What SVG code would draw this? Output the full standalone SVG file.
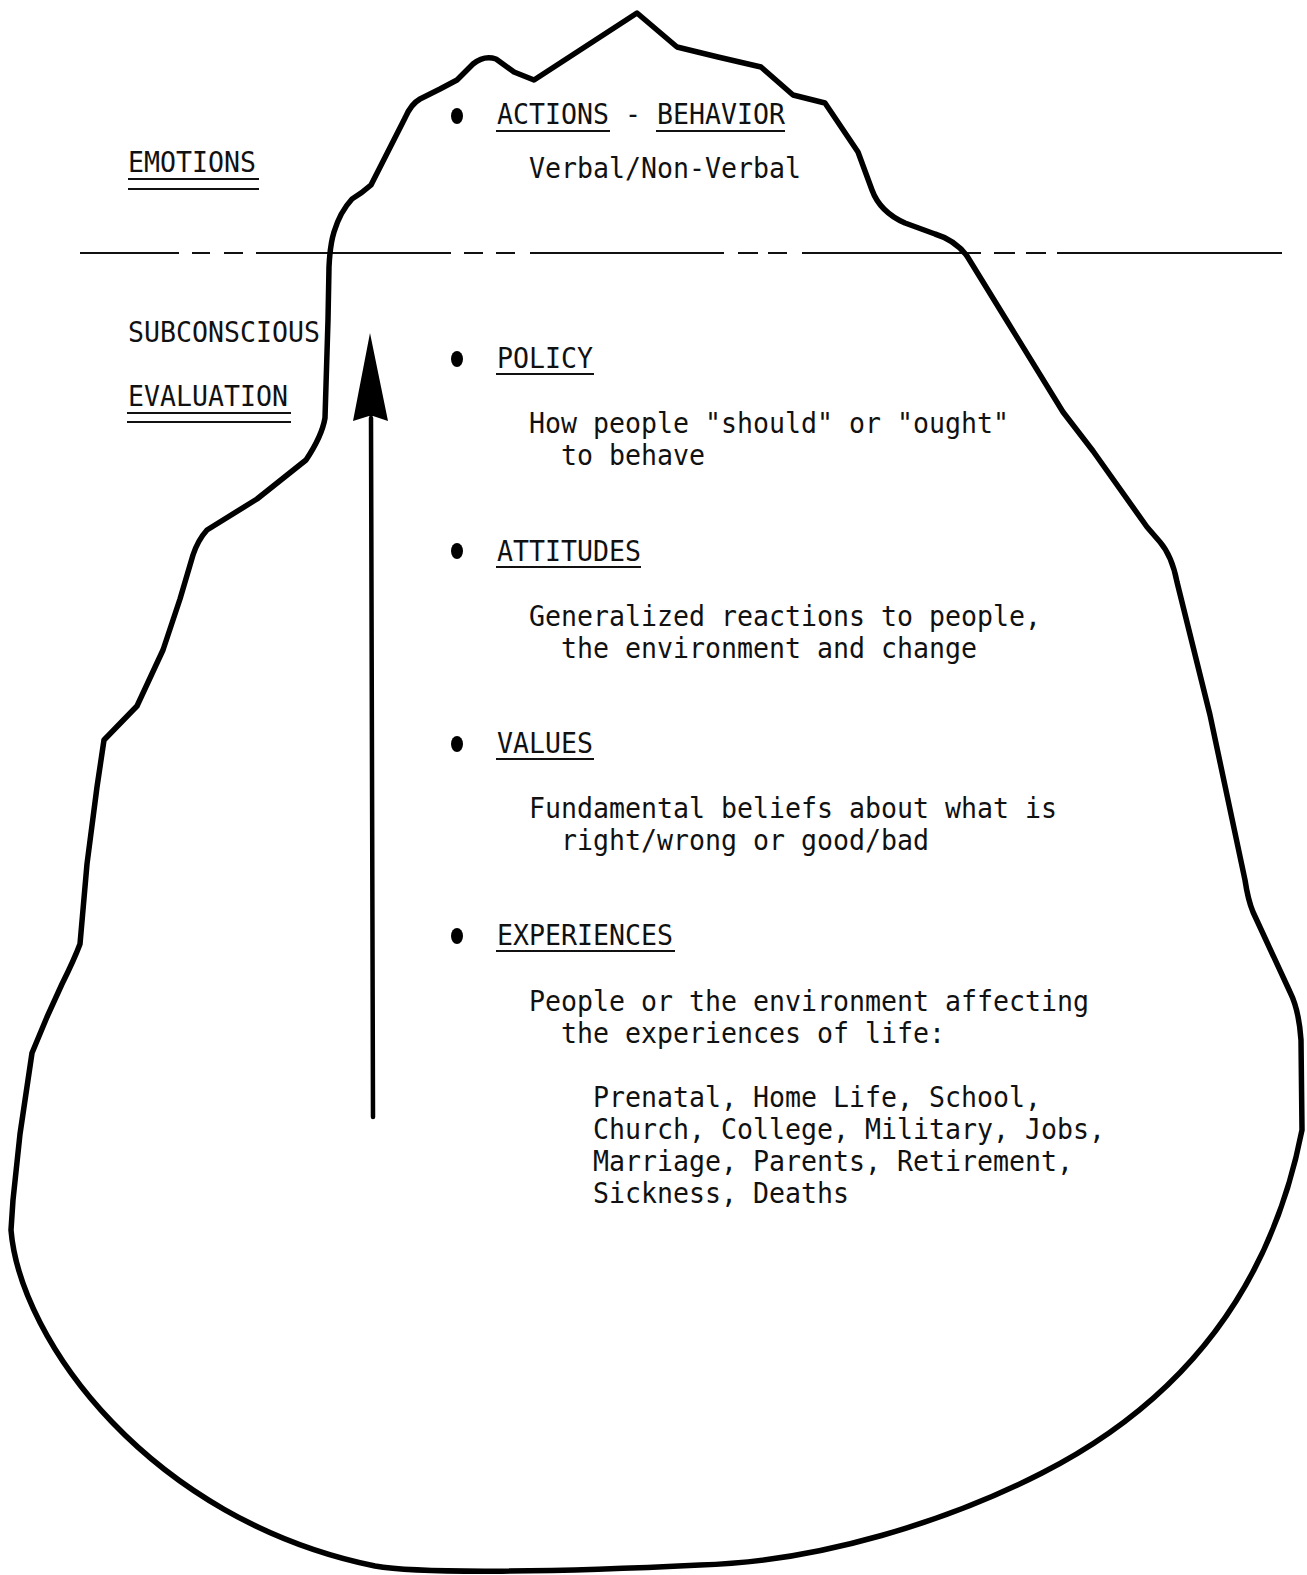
<svg xmlns="http://www.w3.org/2000/svg" width="1307" height="1575" viewBox="0 0 1307 1575">
  <style>
    text { font-family: "DejaVu Sans Mono", "Liberation Mono", monospace; font-size: 29px; fill: #111; }
    .rule { stroke: #111; stroke-width: 2; fill: none; }
    .outline { stroke: #000; stroke-width: 5.5; fill: none; stroke-linejoin: round; stroke-linecap: round; }
    .bullet { fill: #000; }
  </style>
  <rect width="1307" height="1575" fill="#fff"/>

  <!-- waterline -->
  <path id="waterline" class="rule" d="M80 253 H179 M192 253 H210 M224 253 H243 M256 253 H451 M464 253 H483 M496 253 H515 M530 253 H724 M738 253 H758 M768 253 H787 M802 253 H981 M994 253 H1015 M1026 253 H1046 M1057 253 H1282"/>

  <!-- iceberg outline -->
  <path id="iceberg" class="outline" d="M637 13 L534 80 L514 72 L496 59 Q484 55 473 64 L457 80 L440 89 L420 99 Q411 104 405 118 L371 185 Q362 193 352 199 Q340 212 334 232 Q330 245 329 267 L328 320 L325 418 Q322 436 306 460 L257 499 L207 530 Q198 540 193 555 L180 599 L163 650 L137 706 L104 740 L97 787 L87 864 L80 944 Q74 960 62 984 L47 1017 L32 1053 L20 1134 L13 1200 L11 1230 C20 1340 150 1520 375 1566 C420 1574 560 1572 700 1565 C820 1562 950 1520 1042 1473 C1150 1418 1265 1320 1302 1130 L1301 1040 Q1299 1010 1290 992 L1253 912 Q1248 900 1245 880 L1210 715 L1177 582 Q1172 556 1160 542 L1147 527 L1093 451 L1063 412 L1007 321 L967 256 Q955 240 935 234 L905 223 Q880 212 872 190 L858 152 L825 103 L793 95 L761 67 L718 57 L677 47 Z"/>

  <!-- side labels -->
  <g id="emotions">
    <text x="128" y="172" textLength="128" lengthAdjust="spacingAndGlyphs">EMOTIONS</text>
    <path class="rule" d="M128 179 H259 M128 189 H259"/>
  </g>
  <g id="subconscious">
    <text x="128" y="342" textLength="192" lengthAdjust="spacingAndGlyphs">SUBCONSCIOUS</text>
  </g>
  <g id="evaluation">
    <text x="128" y="406" textLength="160" lengthAdjust="spacingAndGlyphs">EVALUATION</text>
    <path class="rule" d="M127 413 H291 M127 422 H291"/>
  </g>

  <!-- layers -->
  <g id="actions">
    <ellipse class="bullet" cx="457" cy="116" rx="6" ry="8"/>
    <text x="497" y="124" textLength="288" lengthAdjust="spacingAndGlyphs">ACTIONS - BEHAVIOR</text>
    <path class="rule" d="M496 131 H610 M656 131 H785"/>
    <text x="529" y="178" textLength="272" lengthAdjust="spacingAndGlyphs">Verbal/Non-Verbal</text>
  </g>

  <g id="policy">
    <ellipse class="bullet" cx="457" cy="359" rx="6" ry="8"/>
    <text x="497" y="368" textLength="96" lengthAdjust="spacingAndGlyphs">POLICY</text>
    <path class="rule" d="M496 374 H594"/>
    <text x="529" y="433" textLength="480" lengthAdjust="spacingAndGlyphs">How people "should" or "ought"</text>
    <text x="561" y="465" textLength="144" lengthAdjust="spacingAndGlyphs">to behave</text>
  </g>

  <g id="attitudes">
    <ellipse class="bullet" cx="457" cy="551" rx="6" ry="8"/>
    <text x="497" y="561" textLength="144" lengthAdjust="spacingAndGlyphs">ATTITUDES</text>
    <path class="rule" d="M496 567 H641"/>
    <text x="529" y="626" textLength="512" lengthAdjust="spacingAndGlyphs">Generalized reactions to people,</text>
    <text x="561" y="658" textLength="416" lengthAdjust="spacingAndGlyphs">the environment and change</text>
  </g>

  <g id="values">
    <ellipse class="bullet" cx="457" cy="744" rx="6" ry="8"/>
    <text x="497" y="753" textLength="96" lengthAdjust="spacingAndGlyphs">VALUES</text>
    <path class="rule" d="M496 759 H594"/>
    <text x="529" y="818" textLength="528" lengthAdjust="spacingAndGlyphs">Fundamental beliefs about what is</text>
    <text x="561" y="850" textLength="368" lengthAdjust="spacingAndGlyphs">right/wrong or good/bad</text>
  </g>

  <g id="experiences">
    <ellipse class="bullet" cx="457" cy="936" rx="6" ry="8"/>
    <text x="497" y="945" textLength="176" lengthAdjust="spacingAndGlyphs">EXPERIENCES</text>
    <path class="rule" d="M496 951 H675"/>
    <text x="529" y="1011" textLength="560" lengthAdjust="spacingAndGlyphs">People or the environment affecting</text>
    <text x="561" y="1043" textLength="384" lengthAdjust="spacingAndGlyphs">the experiences of life:</text>
    <text x="593" y="1107" textLength="448" lengthAdjust="spacingAndGlyphs">Prenatal, Home Life, School,</text>
    <text x="593" y="1139" textLength="512" lengthAdjust="spacingAndGlyphs">Church, College, Military, Jobs,</text>
    <text x="593" y="1171" textLength="480" lengthAdjust="spacingAndGlyphs">Marriage, Parents, Retirement,</text>
    <text x="593" y="1203" textLength="256" lengthAdjust="spacingAndGlyphs">Sickness, Deaths</text>
  </g>

  <!-- upward arrow -->
  <g id="connectors">
    <path d="M373 1117 L371 418" stroke="#000" stroke-width="4.5" fill="none" stroke-linecap="round"/>
    <path d="M370 333 L388 421 L373 416 L369 416 L353 421 Z" fill="#000"/>
  </g>
</svg>
